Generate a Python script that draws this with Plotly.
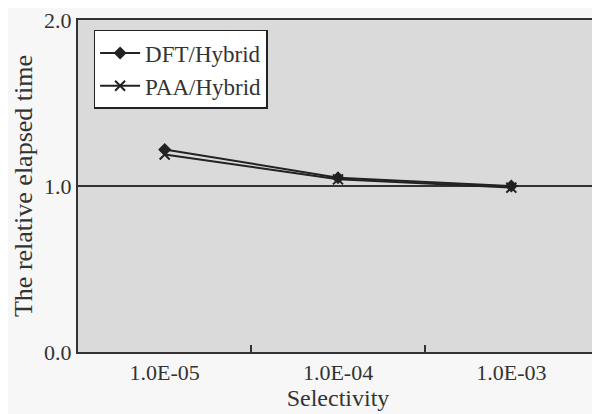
import plotly.graph_objects as go

categories = ["1.0E-05", "1.0E-04", "1.0E-03"]
dft_hybrid = [1.22, 1.05, 1.00]
paa_hybrid = [1.19, 1.04, 0.99]
y_ticks = [0.0, 1.0, 2.0]
y_tick_labels = ["0.0", "1.0", "2.0"]

FONT = "Liberation Serif"
INK = "#333333"
fig = go.Figure()
fig.add_trace(go.Scatter(x=categories, y=dft_hybrid, name="DFT/Hybrid", mode="lines+markers",
                         line=dict(color="#222222", width=2),
                         marker=dict(symbol="diamond", size=10, color="#222222")))
fig.add_trace(go.Scatter(x=categories, y=paa_hybrid, name="PAA/Hybrid", mode="lines+markers",
                         line=dict(color="#222222", width=2),
                         marker=dict(symbol="x-thin", size=10, line=dict(color="#222222", width=2))))

# page body has an 8px default margin, so the figure is sized to fit the 600x414 window
fig.update_layout(
    width=592, height=406,
    margin=dict(l=70, r=2, t=12, b=62, autoexpand=False),
    paper_bgcolor="#f7f7f7", plot_bgcolor="#dadada",
    font=dict(family=FONT, size=22, color=INK),
    showlegend=True,
    legend=dict(x=0.03, y=0.97, xanchor="left", yanchor="top",
                bgcolor="white", bordercolor="#222222", borderwidth=1.5,
                font=dict(family=FONT, size=23, color=INK),
                tracegroupgap=0, itemwidth=40),
    xaxis=dict(type="category", range=[-0.5, 2.5], showline=True, linecolor=INK, linewidth=2, mirror=True,
               ticks="inside", tickson="boundaries", ticklen=7, tickcolor=INK, tickwidth=2,
               showgrid=False, tickfont=dict(size=22), automargin=False,
               title=dict(text="Selectivity", font=dict(family=FONT, size=24, color=INK), standoff=0)),
    yaxis=dict(range=[0, 2], tickvals=y_ticks, ticktext=y_tick_labels, showline=True,
               linecolor=INK, linewidth=2, mirror=True, ticks="", automargin=False,
               ticklabeloverflow="allow",
               showgrid=True, gridcolor=INK, gridwidth=1.5, zeroline=False, tickfont=dict(size=22),
               title=dict(text="The relative elapsed time", font=dict(family=FONT, size=26, color=INK), standoff=4)),
)
fig.write_html("out.html")
